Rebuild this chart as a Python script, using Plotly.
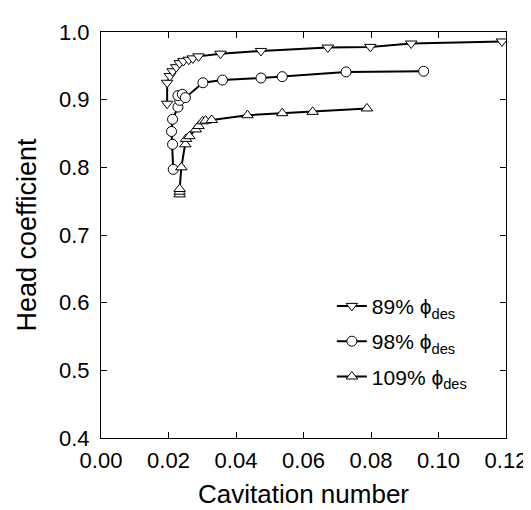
import plotly.graph_objects as go

# 89% phi_des (down triangles)
x89 = [0.0196, 0.0196, 0.0204, 0.0212, 0.0223, 0.0233, 0.0244, 0.0260, 0.0272, 0.0289,
       0.0354, 0.0474, 0.0672, 0.0798, 0.0919, 0.1188]
y89 = [0.894, 0.925, 0.935, 0.942, 0.948, 0.954, 0.957, 0.959, 0.961, 0.964,
       0.968, 0.972, 0.977, 0.978, 0.983, 0.986]

# 98% phi_des (circles)
x98 = [0.0214, 0.0212, 0.0209, 0.0212, 0.0228, 0.0233, 0.0228, 0.0241, 0.0250,
       0.0302, 0.0360, 0.0474, 0.0537, 0.0726, 0.0956]
y98 = [0.797, 0.834, 0.853, 0.871, 0.889, 0.899, 0.906, 0.908, 0.903,
       0.925, 0.929, 0.932, 0.934, 0.941, 0.942]

# 109% phi_des (up triangles)
x109 = [0.0233, 0.0233, 0.0233, 0.0238, 0.0250, 0.0252, 0.0262, 0.0281, 0.0289,
        0.0301, 0.0310, 0.0328, 0.0434, 0.0537, 0.0627, 0.0788]
y109 = [0.760, 0.764, 0.768, 0.800, 0.834, 0.842, 0.846, 0.856, 0.861,
        0.868, 0.869, 0.870, 0.877, 0.880, 0.882, 0.887]

names = ["89% \u03d5<sub>des</sub>", "98% \u03d5<sub>des</sub>", "109% \u03d5<sub>des</sub>"]
symbols = ["triangle-down", "circle", "triangle-up"]

x_ticks = [0.00, 0.02, 0.04, 0.06, 0.08, 0.10, 0.12]
x_tick_labels = ["0.00", "0.02", "0.04", "0.06", "0.08", "0.10", "0.12"]
y_ticks = [0.4, 0.5, 0.6, 0.7, 0.8, 0.9, 1.0]
y_tick_labels = ["0.4", "0.5", "0.6", "0.7", "0.8", "0.9", "1.0"]

FONT = "Liberation Sans, Arial, sans-serif"

fig = go.Figure()
for i, (xs, ys) in enumerate([(x89, y89), (x98, y98), (x109, y109)]):
    fig.add_trace(go.Scatter(
        x=xs, y=ys, mode="lines+markers", name=names[i],
        legendgroup=f"g{i}",
        line=dict(color="black", width=2),
        marker=dict(symbol=symbols[i], size=10,
                    color="white", line=dict(color="black", width=1)),
    ))

axis_common = dict(
    showgrid=False, zeroline=False, showline=True, linecolor="black", linewidth=1,
    mirror="ticks", ticks="inside", ticklen=6, tickcolor="black", tickwidth=1,
    tickfont=dict(family=FONT, size=22, color="black"),
)

fig.update_layout(
    width=531, height=510,
    margin=dict(l=93, r=24, t=13, b=80),
    paper_bgcolor="white", plot_bgcolor="white",
    showlegend=True,
    legend=dict(
        x=0.57, y=0.375, xanchor="left", yanchor="top",
        bgcolor="rgba(0,0,0,0)", borderwidth=0,
        font=dict(family=FONT, size=21, color="black"),
        tracegroupgap=5, itemwidth=30,
    ),
    xaxis=dict(range=[0, 0.12], tickvals=x_ticks, ticktext=x_tick_labels,
               ticklabelstandoff=3,
               title=dict(text="Cavitation number", font=dict(family=FONT, size=26, color="black"),
                          standoff=12),
               **axis_common),
    yaxis=dict(range=[0.4, 1.0], tickvals=y_ticks, ticktext=y_tick_labels,
               ticklabelstandoff=6,
               title=dict(text="Head coefficient", font=dict(family=FONT, size=27, color="black"),
                          standoff=14),
               **axis_common),
)

fig.write_html("out.html")
